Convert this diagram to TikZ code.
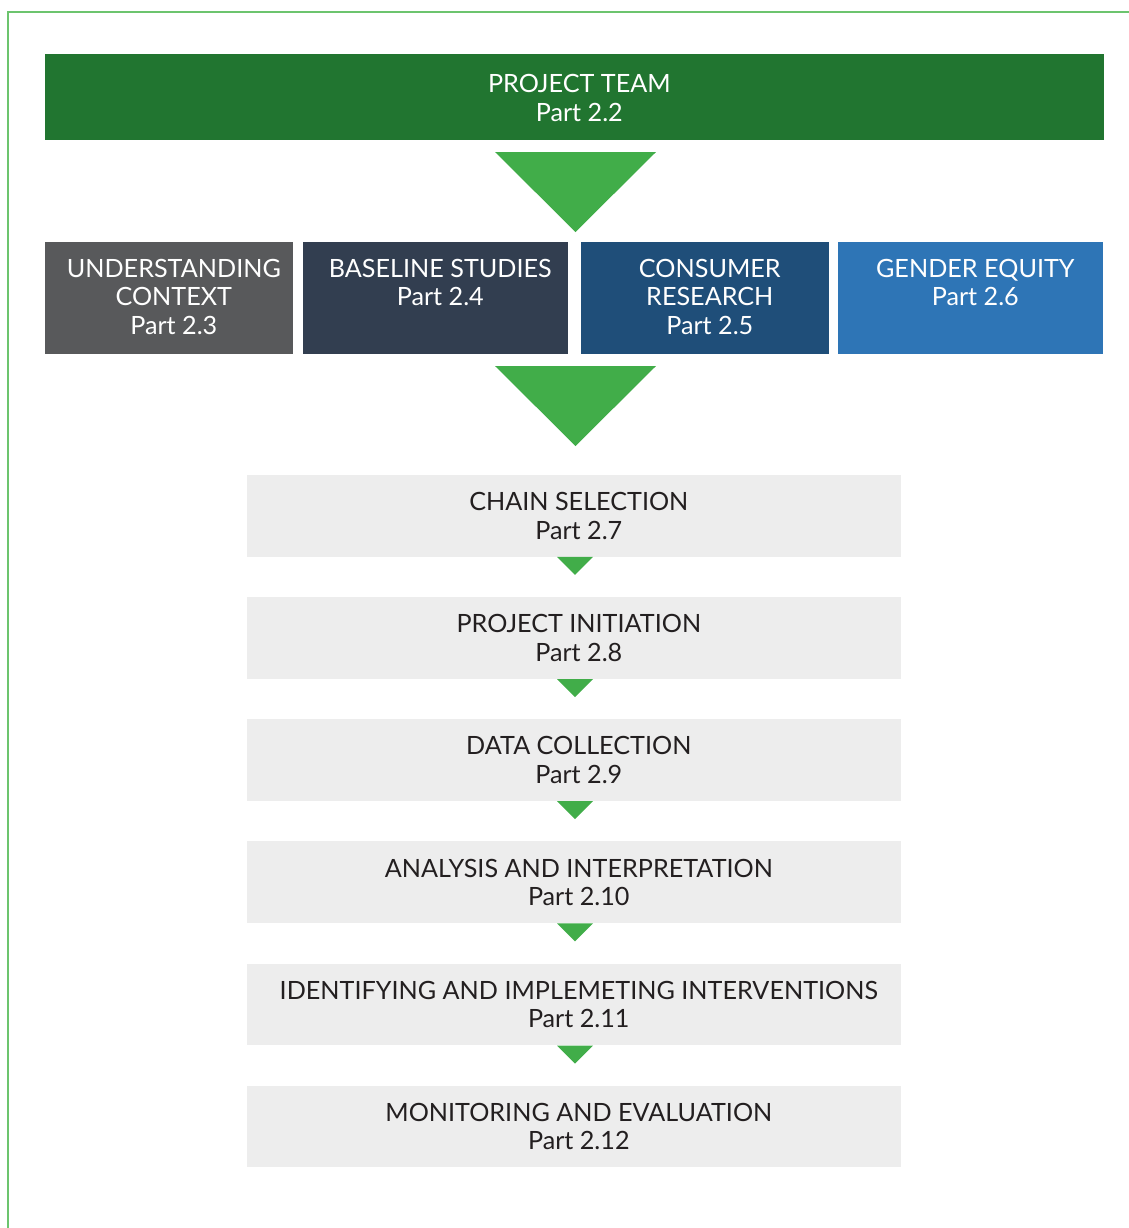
\documentclass[tikz,border=0pt]{standalone}
\usepackage{fontspec}
\setmainfont{Lato}
\usepackage{xcolor}
\usetikzlibrary{positioning, calc}
\definecolor{teamgreen}{HTML}{217530}
\definecolor{arrowgreen}{HTML}{41AD49}
\definecolor{frameline}{HTML}{6CC46E}
\definecolor{contextgrey}{HTML}{58595B}
\definecolor{baselineblue}{HTML}{323E50}
\definecolor{consumerblue}{HTML}{1F4E79}
\definecolor{genderblue}{HTML}{2E75B6}
\definecolor{stepgrey}{HTML}{EDEDED}
\definecolor{steptext}{HTML}{231F20}
\tikzset{%
	every box/.style={
		rectangle,
		inner sep=0pt,
		font=\fontsize{17.9}{20.3}\selectfont,
		align=center
	},
	team box/.style={
		every box,
		fill=teamgreen,
		text=white,
		minimum width=26.475cm,
		minimum height=2.15cm
	},
	part box/.style={
		every box,
		minimum height=2.8cm
	},
	part text/.style={
		every box,
		anchor=north,
		text=white
	},
	stage box/.style={
		every box,
		fill=stepgrey,
		text=steptext,
		minimum width=16.35cm,
		minimum height=2.04cm
	},
	stage text/.style={
		every box,
		text=steptext
	},
	big arrow/.style={
		fill=arrowgreen
	},
	small arrow/.style={
		fill=arrowgreen
	},
}
\begin{document}
\begin{tikzpicture}
	\useasboundingbox (0,0) rectangle (28.225,-30.7);
	% frame lines
	\draw[frameline, line width=1.4pt] (0.2,-30.7) -- (0.2,-0.3) -- (28.225,-0.3);
	
	% project team on top
	\node[team box] (team) at (14.3625,-2.425) {};
	\node[part text, anchor=center] (team text) at ($(team.center)+(0.12,-0.03)$) {PROJECT TEAM\\Part 2.2};
	\fill[big arrow] (12.375,-3.8) -- ++(4.025,0) -- ++(-2.0125,-2) -- cycle;
	
	% the four parts in a row
	\node[part box, fill=contextgrey, minimum width=6.2cm] (context) at (4.225,-7.45) {};
	\node[part box, fill=baselineblue, minimum width=6.625cm] (baseline) at (10.8875,-7.45) {};
	\node[part box, fill=consumerblue, minimum width=6.2cm] (consumer) at (17.625,-7.45) {};
	\node[part box, fill=genderblue, minimum width=6.625cm] (gender) at (24.2625,-7.45) {};
	\node[part text] (context text) at ($(context.north)+(0.12,-0.43)$) {UNDERSTANDING\\CONTEXT\\Part 2.3};
	\node[part text] (baseline text) at ($(baseline.north)+(0.12,-0.43)$) {BASELINE STUDIES\\Part 2.4};
	\node[part text] (consumer text) at ($(consumer.north)+(0.12,-0.43)$) {CONSUMER\\RESEARCH\\Part 2.5};
	\node[part text] (gender text) at ($(gender.north)+(0.12,-0.43)$) {GENDER EQUITY\\Part 2.6};
	\fill[big arrow] (12.375,-9.15) -- ++(4.025,0) -- ++(-2.0125,-2) -- cycle;
	
	% the stages, one below the other
	\node[stage box] (chain) at (14.35,-12.895) {};
	\node[stage box, below=1.0cm of chain] (initiation) {};
	\node[stage box, below=1.0cm of initiation] (collection) {};
	\node[stage box, below=1.0cm of collection] (analysis) {};
	\node[stage box, below=1.0cm of analysis] (interventions) {};
	\node[stage box, below=1.0cm of interventions] (monitoring) {};
	\node[stage text] (chain text) at ($(chain)+(0.12,0)$) {CHAIN SELECTION\\Part 2.7};
	\node[stage text] (initiation text) at ($(initiation)+(0.12,0)$) {PROJECT INITIATION\\Part 2.8};
	\node[stage text] (collection text) at ($(collection)+(0.12,0)$) {DATA COLLECTION\\Part 2.9};
	\node[stage text] (analysis text) at ($(analysis)+(0.12,0)$) {ANALYSIS AND INTERPRETATION\\Part 2.10};
	\node[stage text] (interventions text) at ($(interventions)+(0.12,0)$) {IDENTIFYING AND IMPLEMETING INTERVENTIONS\\Part 2.11};
	\node[stage text] (monitoring text) at ($(monitoring)+(0.12,0)$) {MONITORING AND EVALUATION\\Part 2.12};
	
	% small arrows between the stages
	\foreach \stage in {chain, initiation, collection, analysis, interventions}
		\fill[small arrow] ($(\stage.south)+(-0.425,0)$) -- ++(0.9,0) -- ++(-0.45,-0.45) -- cycle;
\end{tikzpicture}
\end{document}
